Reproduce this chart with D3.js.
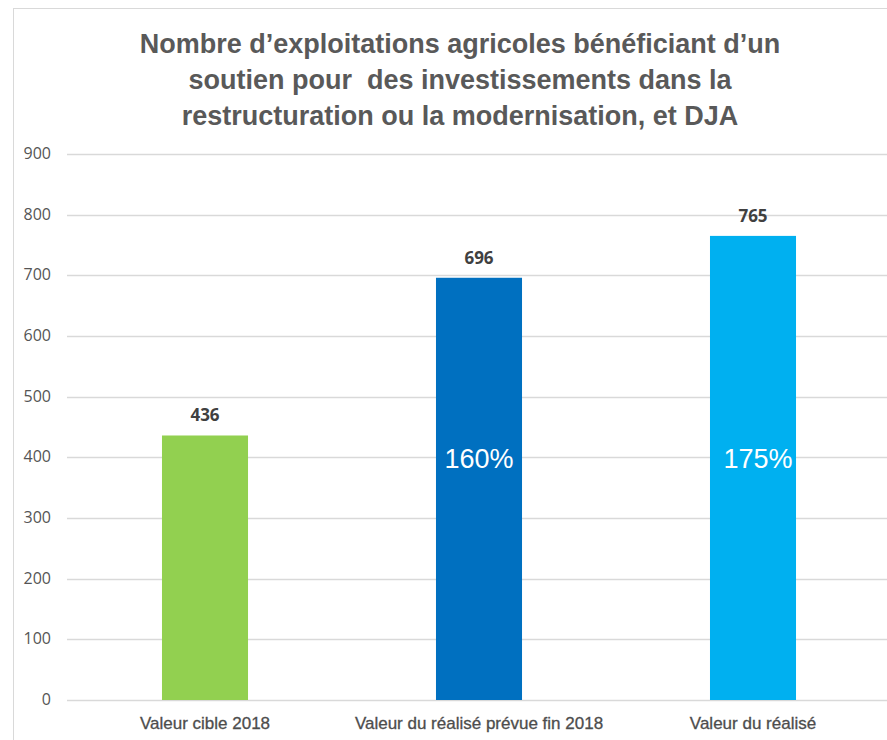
<!DOCTYPE html>
<html>
<head>
<meta charset="utf-8">
<script src="https://cdnjs.cloudflare.com/ajax/libs/d3/7.8.5/d3.min.js"></script>
<style>
  body { margin: 0; background: #fff; }
  svg { display: block; }
</style>
</head>
<body>
<svg class="barChart"></svg>
<script>
// data
var categories = ["Valeur cible 2018", "Valeur du réalisé prévue fin 2018", "Valeur du réalisé"];
var values = [436, 696, 765];
var percentLabels = ["", "160%", "175%"];
var barColors = ["#92D050", "#0070C0", "#00B0F0"];
var yTicks = [0, 100, 200, 300, 400, 500, 600, 700, 800, 900];
var titleLines = [
  "Nombre d\u2019exploitations agricoles bénéficiant d\u2019un",
  "soutien pour  des investissements dans la",
  "restructuration ou la modernisation, et DJA"
];

function barChart() {
  var width = 887,
      height = 740;

  var svg = d3.select(".barChart")
      .attr("width", width)
      .attr("height", height);

  // chart frame
  svg.append("rect")
      .attr("x", 13.5).attr("y", 8.5)
      .attr("width", width + 20).attr("height", height + 20)
      .attr("fill", "#fff")
      .attr("stroke", "#d9d9d9");

  var x = d3.scaleBand()
      .domain(categories)
      .range([68, 890])
      .paddingInner(0.686)
      .paddingOuter(0.343);

  var y = d3.scaleLinear()
      .domain([0, 900])
      .range([700, 154]);

  // gridlines
  svg.append("g")
      .selectAll("line")
      .data(yTicks)
    .enter().append("line")
      .attr("x1", 67).attr("x2", width)
      .attr("y1", function(d) { return Math.round(y(d)) + 0.5; })
      .attr("y2", function(d) { return Math.round(y(d)) + 0.5; })
      .attr("stroke", "#d9d9d9")
      .attr("stroke-width", 1.5);

  // y axis labels
  svg.append("g")
      .selectAll("text")
      .data(yTicks)
    .enter().append("text")
      .attr("x", 51)
      .attr("y", function(d) { return y(d) + 5; })
      .attr("text-anchor", "end")
      .attr("font-family", "'Open Sans', sans-serif")
      .attr("font-size", 16)
      .attr("fill", "#555")
      .text(function(d) { return d; });

  // bars
  svg.append("g")
      .selectAll("rect")
      .data(values)
    .enter().append("rect")
      .attr("x", function(d, i) { return x(categories[i]); })
      .attr("y", function(d) { return y(d); })
      .attr("width", x.bandwidth())
      .attr("height", function(d) { return y(0) - y(d); })
      .attr("fill", function(d, i) { return barColors[i]; });

  // value labels
  svg.append("g")
      .selectAll("text")
      .data(values)
    .enter().append("text")
      .attr("x", function(d, i) { return x(categories[i]) + x.bandwidth() / 2; })
      .attr("y", function(d) { return y(d) - 14; })
      .attr("text-anchor", "middle")
      .attr("font-family", "'Open Sans', sans-serif")
      .attr("font-weight", "bold")
      .attr("font-size", 17)
      .attr("fill", "#404040")
      .text(function(d) { return d; });

  // percentage labels
  svg.append("g")
      .selectAll("text")
      .data(percentLabels)
    .enter().append("text")
      .attr("x", function(d, i) { return x(categories[i]) + x.bandwidth() / 2 + (i == 2 ? 5 : 0); })
      .attr("y", y(400) + 11)
      .attr("text-anchor", "middle")
      .attr("font-family", "'Liberation Sans', Arial, sans-serif")
      .attr("font-size", 27)
      .attr("fill", "#fff")
      .text(function(d) { return d; });

  // x axis labels
  svg.append("g")
      .selectAll("text")
      .data(categories)
    .enter().append("text")
      .attr("x", function(d) { return x(d) + x.bandwidth() / 2; })
      .attr("y", 729)
      .attr("text-anchor", "middle")
      .attr("font-family", "'Liberation Sans Narrow', sans-serif")
      .attr("font-size", 17)
      .attr("fill", "#4d4d4d")
      .attr("stroke", "#4d4d4d")
      .attr("stroke-width", 0.3)
      .text(function(d) { return d; });

  // title
  svg.append("g")
      .selectAll("text")
      .data(titleLines)
    .enter().append("text")
      .attr("x", 460)
      .attr("y", function(d, i) { return 53 + i * 36; })
      .attr("text-anchor", "middle")
      .style("white-space", "pre")
      .attr("font-family", "'Liberation Sans Narrow', sans-serif")
      .attr("font-weight", "bold")
      .attr("font-size", 27)
      .attr("fill", "#595959")
      .text(function(d) { return d; });
}

barChart();
</script>
</body>
</html>
